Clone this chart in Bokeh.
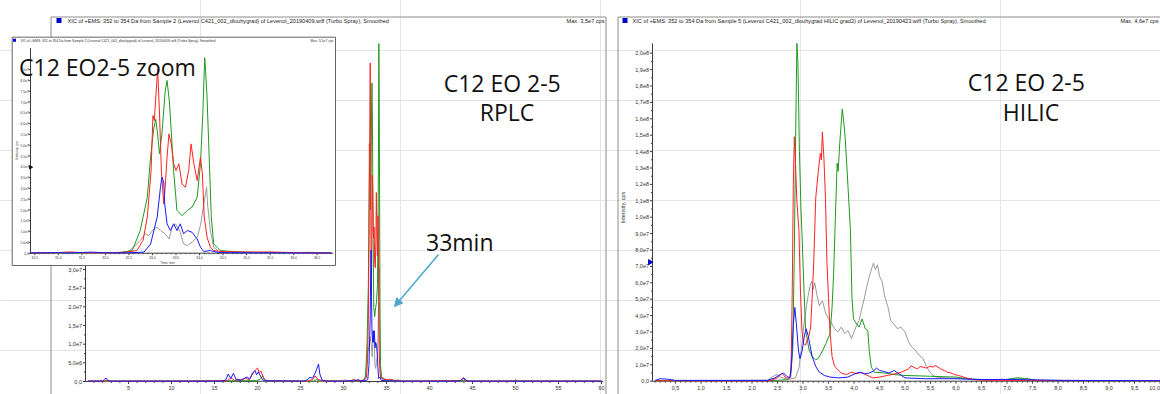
import math
from bokeh.plotting import figure
from bokeh.models import Range1d, Arrow, NormalHead
from bokeh.core.properties import value
from bokeh.embed import file_html
from bokeh.resources import INLINE

# ============================ data ============================
# RPLC XIC (m/z 352-354), Sample 2 -- time [min], intensity [1e6 cps]
rplc_gray = [(0.3,0.1),(9.0,0.1),(19.5,0.2),(20.5,0.1),(29.8,0.1),(30.2,0.4),(30.6,0.2),(31.5,0.1),(32.0,0.2),
             (32.46,0.5),(32.6,2.8),(32.74,5.9),(32.85,9.0),(32.92,8.2),(33.03,11.3),(33.1,12.0),(33.17,10.5),
             (33.27,9.0),(33.35,6.6),(33.42,12.0),(33.49,13.6),(33.59,9.7),(33.66,4.3),(33.74,3.5),(33.84,5.1),
             (33.95,7.4),(34.02,12.8),(34.09,22.8),(34.15,30.5),(34.17,22.8),(34.23,10.5),(34.3,2.8),(34.4,0.9),
             (34.8,0.3),(36.0,0.1),(36.8,0.1),(60.0,0.1)]
rplc_green = [(0.3,0.1),(12.0,0.1),(19.9,0.2),(20.3,0.6),(20.6,1.5),(20.8,0.4),(21.2,0.1),(26.5,0.1),(26.9,0.5),
              (27.2,0.2),(30.4,0.1),(31.5,0.2),(32.3,0.3),(32.57,1.2),(32.74,10.5),(32.89,25.9),(32.96,44.4),
              (32.99,50.6),(33.03,58.0),(33.07,62.0),(33.11,55.0),(33.15,46.0),(33.2,55.0),(33.27,75.0),
              (33.31,80.0),(33.36,70.0),(33.42,49.0),(33.45,38.0),(33.52,19.8),(33.63,17.4),(33.74,19.8),
              (33.84,21.3),(33.95,25.9),(34.02,41.4),(34.07,64.5),(34.11,90.5),(34.13,84.0),(34.16,72.0),
              (34.21,41.4),(34.25,16.7),(34.3,4.3),(34.44,1.2),(34.8,0.6),(35.3,0.4),(35.9,0.2),(36.3,0.4),
              (36.8,0.1),(40.0,0.1),(44.0,0.3),(44.3,0.1),(60.0,0.1)]
rplc_red = [(0.3,0.1),(2.2,0.1),(2.5,0.4),(2.8,0.1),(12.0,0.1),(16.5,0.2),(16.9,1.0),(17.3,0.3),(17.7,0.6),
            (18.2,0.4),(18.6,0.9),(19.0,0.5),(19.3,1.5),(19.6,2.6),(19.8,3.2),(20.0,3.6),(20.2,2.4),(20.4,2.8),
            (20.7,1.0),(21.0,0.2),(25.8,0.1),(26.4,0.5),(26.7,1.5),(27.0,0.6),(27.4,0.3),(28.0,0.1),(30.4,0.1),
            (30.9,0.2),(31.26,0.6),(31.5,0.2),(32.0,0.2),(32.4,0.4),(32.67,1.2),(32.8,6.0),(32.89,16.7),
            (32.97,38.0),(33.01,63.7),(33.04,61.4),(33.07,72.0),(33.11,85.3),(33.15,64.5),(33.19,38.0),
            (33.24,22.8),(33.27,30.5),(33.31,44.4),(33.35,55.2),(33.4,50.6),(33.45,41.4),(33.5,38.3),
            (33.56,41.4),(33.63,32.0),(33.7,30.5),(33.77,38.3),(33.82,50.6),(33.88,41.4),(33.95,33.6),
            (34.02,44.4),(34.06,36.7),(34.1,16.7),(34.16,7.4),(34.23,2.8),(34.3,1.2),(34.45,0.8),(34.8,0.6),
            (35.2,0.5),(35.5,0.6),(35.8,0.4),(36.2,0.2),(36.8,0.1),(38.0,0.1),(43.6,0.2),(43.9,1.0),(44.1,0.4),
            (44.4,0.1),(49.8,0.1),(50.0,0.5),(50.2,0.1),(60.0,0.1)]
rplc_blue = [(0.3,0.1),(2.0,0.1),(2.2,0.6),(2.4,0.9),(2.6,0.3),(2.9,0.1),(15.8,0.1),(16.3,0.4),(16.6,2.0),
             (16.9,0.8),(17.2,2.2),(17.5,0.6),(18.0,0.3),(18.4,0.8),(18.8,1.2),(19.1,0.6),(19.4,2.2),(19.7,2.9),
             (19.9,1.8),(20.1,2.6),(20.4,1.2),(20.7,0.2),(25.4,0.1),(25.8,0.5),(26.1,1.1),(26.4,0.9),(26.7,2.2),
             (26.9,3.4),(27.1,4.7),(27.25,2.0),(27.5,0.4),(28.0,0.1),(30.4,0.1),(31.0,0.3),(31.2,0.1),(31.7,0.5),
             (32.0,0.2),(32.5,0.2),(32.82,0.5),(32.96,4.3),(33.1,16.7),(33.17,30.5),(33.2,35.2),(33.24,32.9),
             (33.26,22.8),(33.31,13.6),(33.38,10.5),(33.45,13.6),(33.52,10.5),(33.59,13.6),(33.66,9.0),
             (33.74,10.5),(33.84,9.7),(33.95,6.6),(34.02,2.8),(34.09,0.8),(34.23,1.2),(34.4,0.3),(35.0,0.2),
             (36.5,0.1),(36.8,0.1),(43.5,0.1),(43.8,0.6),(44.0,1.0),(44.2,0.4),(44.5,0.1),(60.0,0.1)]

# HILIC XIC (m/z 352-354), Sample 5 -- time [min], intensity [1e7 cps]
hilic_gray = [(0.1,0.03),(2.3,0.05),(2.42,0.3),(2.49,0.4),(2.56,0.25),(2.7,0.1),(2.85,0.2),(2.92,0.8),(2.97,2.0),
              (3.02,3.5),(3.07,4.6),(3.1,5.2),(3.14,5.8),(3.17,6.1),(3.2,5.6),(3.23,6.0),(3.27,5.3),(3.32,4.6),
              (3.38,4.9),(3.45,4.1),(3.5,3.8),(3.55,3.6),(3.62,3.2),(3.68,3.0),(3.75,3.3),(3.82,2.9),(3.88,3.1),
              (3.95,2.6),(4.0,3.0),(4.05,3.4),(4.1,3.7),(4.15,4.4),(4.2,5.0),(4.26,5.9),(4.32,6.6),(4.38,7.2),
              (4.42,6.8),(4.46,7.1),(4.5,6.4),(4.55,6.1),(4.6,5.2),(4.66,4.6),(4.72,3.7),(4.78,3.5),(4.85,3.2),
              (4.92,3.3),(5.0,3.0),(5.07,2.4),(5.13,2.1),(5.2,1.9),(5.27,1.6),(5.35,1.4),(5.42,0.9),(5.5,0.5),
              (5.6,0.25),(5.8,0.2),(6.2,0.15),(6.6,0.1),(7.0,0.12),(7.2,0.2),(7.4,0.15),(7.6,0.05),(10.2,0.03)]
hilic_green = [(0.1,0.03),(2.5,0.05),(2.7,0.1),(2.76,0.3),(2.8,2.0),(2.83,8.0),(2.86,16.0),(2.88,20.6),(2.9,19.5),
               (2.93,14.0),(2.96,10.5),(2.98,9.0),(3.02,5.5),(3.05,3.2),(3.08,2.6),(3.12,1.9),(3.18,1.5),
               (3.25,1.3),(3.3,1.4),(3.39,1.9),(3.45,2.3),(3.53,2.9),(3.57,4.5),(3.6,6.5),(3.64,10.5),(3.67,13.3),
               (3.69,12.8),(3.72,14.5),(3.77,16.6),(3.8,15.8),(3.83,14.7),(3.88,12.0),(3.93,9.2),(3.96,5.1),
               (3.99,3.8),(4.05,3.5),(4.1,3.3),(4.16,3.8),(4.22,3.2),(4.27,3.1),(4.3,1.8),(4.34,0.86),(4.4,0.55),
               (4.6,0.5),(4.8,0.4),(5.0,0.35),(5.5,0.3),(6.0,0.25),(6.4,0.08),(7.0,0.1),(7.2,0.2),(7.4,0.15),
               (7.55,0.05),(10.2,0.03)]
hilic_red = [(0.1,0.03),(2.35,0.03),(2.5,0.2),(2.59,0.49),(2.65,0.25),(2.72,0.15),(2.75,0.25),(2.77,1.5),
             (2.79,5.7),(2.81,12.0),(2.83,14.9),(2.85,13.5),(2.88,11.0),(2.92,9.2),(2.95,5.5),(2.98,3.1),
             (3.01,2.3),(3.05,2.2),(3.08,2.5),(3.12,2.8),(3.15,3.3),(3.18,5.1),(3.21,7.2),(3.25,11.2),(3.3,12.8),
             (3.34,13.9),(3.36,13.5),(3.38,15.2),(3.41,13.6),(3.44,11.2),(3.47,7.2),(3.5,5.1),(3.53,3.0),
             (3.57,1.5),(3.62,0.9),(3.67,0.75),(3.75,0.5),(3.85,0.4),(3.95,0.55),(4.05,0.45),(4.15,0.55),
             (4.23,0.4),(4.3,0.3),(4.37,0.2),(4.5,0.25),(4.65,0.35),(4.8,0.45),(4.93,0.55),(5.0,0.65),(5.07,0.75),
             (5.12,0.95),(5.17,0.85),(5.24,0.75),(5.3,0.9),(5.35,0.86),(5.42,0.8),(5.49,0.92),(5.55,0.85),
             (5.59,0.96),(5.65,0.85),(5.7,0.75),(5.77,0.65),(5.83,0.55),(5.9,0.5),(5.97,0.4),(6.05,0.35),
             (6.11,0.29),(6.2,0.2),(6.32,0.1),(6.6,0.05),(10.2,0.03)]
hilic_blue = [(0.1,0.05),(0.2,0.15),(0.35,0.12),(0.5,0.05),(2.3,0.05),(2.45,0.2),(2.55,0.4),(2.62,0.5),(2.68,0.3),
              (2.74,0.2),(2.77,0.8),(2.81,3.4),(2.84,4.5),(2.87,3.5),(2.91,1.9),(2.94,1.37),(2.98,1.8),(3.03,2.8),
              (3.06,3.2),(3.1,2.8),(3.18,1.5),(3.25,0.9),(3.32,0.55),(3.42,0.35),(3.53,0.25),(3.7,0.2),(3.88,0.25),
              (3.98,0.4),(4.1,0.55),(4.2,0.45),(4.3,0.5),(4.37,0.6),(4.44,0.8),(4.5,0.65),(4.58,0.6),(4.68,0.5),
              (4.79,0.65),(4.88,0.45),(5.0,0.2),(5.4,0.15),(6.0,0.15),(6.5,0.1),(7.2,0.1),(8.1,0.05),(10.2,0.03)]

# threshold markers on the intensity axes
hilic_marker_level = 7.26   # 1e7 cps
zoom_marker_level = 39.8    # 1e6 cps

# axis ticks and labels
rplc_x_ticks = [5, 10, 15, 20, 25, 30, 35, 40, 45, 50, 55, 60]
rplc_x_labels = ["5", "10", "15", "20", "25", "30", "35", "40", "45", "50", "55", "60"]
rplc_y_ticks = [0, 5, 10, 15, 20, 25, 30]
rplc_y_labels = ["0,0", "5,0e6", "1,0e7", "1,5e7", "2,0e7", "2,5e7", "3,0e7"]
zoom_x_ticks = [30.5, 31.0, 31.5, 32.0, 32.5, 33.0, 33.5, 34.0, 34.5, 35.0, 35.5, 36.0, 36.5]
zoom_x_labels = ["30,5", "31,0", "31,5", "32,0", "32,5", "33,0", "33,5", "34,0", "34,5", "35,0", "35,5", "36,0", "36,5"]
zoom_y_ticks = [0, 5, 10, 15, 20, 25, 30, 35, 40, 45, 50, 55, 60, 65, 70, 75, 80, 85]
zoom_y_labels = ["0,0", "5,0e6", "1,0e7", "1,5e7", "2,0e7", "2,5e7", "3,0e7", "3,5e7", "4,0e7", "4,5e7",
                 "5,0e7", "5,5e7", "6,0e7", "6,5e7", "7,0e7", "7,5e7", "8,0e7", "8,5e7"]
hilic_x_ticks = [0.5, 1.0, 1.5, 2.0, 2.5, 3.0, 3.5, 4.0, 4.5, 5.0, 5.5, 6.0, 6.5, 7.0, 7.5, 8.0, 8.5, 9.0, 9.5, 10.0]
hilic_x_labels = ["0,5", "1,0", "1,5", "2,0", "2,5", "3,0", "3,5", "4,0", "4,5", "5,0", "5,5", "6,0", "6,5",
                  "7,0", "7,5", "8,0", "8,5", "9,0", "9,5", "10,0"]
hilic_y_ticks = list(range(0, 21))
hilic_y_labels = ["0,0", "1,0e7", "2,0e7", "3,0e7", "4,0e7", "5,0e7", "6,0e7", "7,0e7", "8,0e7", "9,0e7",
                  "1,0e8", "1,1e8", "1,2e8", "1,3e8", "1,4e8", "1,5e8", "1,6e8", "1,7e8", "1,8e8", "1,9e8", "2,0e8"]

hdr_left = "XIC of +EMS: 352 to 354 Da from Sample 2 (Levenol C421_002_dlouhygrad) of Levenol_20190409.wiff (Turbo Spray), Smoothed"
hdr_right = "XIC of +EMS: 352 to 354 Da from Sample 5 (Levenol C421_002_dlouhygrad HILIC grad2) of Levenol_20190423.wiff (Turbo Spray), Smoothed"

# ============================ style ============================
C_BLUE, C_RED, C_GREEN, C_GRAY = "#1a1aff", "#ff2222", "#1f9a1f", "#9a9a9a"
AX, TXT, FRAME, ARROW = "#3c3c3c", "#333333", "#8c8c8c", "#4aa8cc"
TF = "Liberation Sans"
BIG = "Open Sans"

W, H, OX, OY = 1160, 394, 0, 0
PX = (OX, OX + W)
PY = (OY + H, OY)

p = figure(width=W, height=H, x_range=Range1d(*PX), y_range=Range1d(*PY),
           x_axis_location=None, y_axis_location=None, toolbar_location=None,
           output_backend="svg", min_border=0, outline_line_color=None,
           background_fill_color="white", border_fill_color="white")


def sub(xs, xt, ys, yt):
    return p.subplot(x_source=Range1d(*xs), x_target=Range1d(*xt),
                     y_source=Range1d(*ys), y_target=Range1d(*yt))


def x_axis(xs, xt, y_px, span, majors, labels, minors, maj, mnr, lab_y, fs, last_right=False):
    s = sub(xs, xt, PY, PY)
    s.segment(x0=[span[0]], y0=[y_px], x1=[span[1]], y1=[y_px], line_color=AX, line_width=1)
    n = len(minors)
    s.segment(x0=minors, y0=[y_px] * n, x1=minors, y1=[y_px + mnr] * n, line_color=AX, line_width=1)
    m = len(majors)
    s.segment(x0=majors, y0=[y_px] * m, x1=majors, y1=[y_px + maj] * m, line_color=AX, line_width=1)
    k = m - 1 if last_right else m
    s.text(x=majors[:k], y=[lab_y] * k, text=labels[:k], text_align="center", text_baseline="middle",
           text_font=value(TF), text_font_size=fs, text_color=TXT)
    if last_right:
        p.text(x=[PX[1] - 0.5], y=[lab_y], text=[labels[-1]], text_align="right", text_baseline="middle",
               text_font=value(TF), text_font_size=fs, text_color=TXT)


def y_axis(ys, yt, x_px, span, majors, labels, minors, maj, mnr, lab_x, fs):
    s = sub(PX, PX, ys, yt)
    s.segment(x0=[x_px], y0=[span[0]], x1=[x_px], y1=[span[1]], line_color=AX, line_width=1)
    n = len(minors)
    if n:
        s.segment(x0=[x_px] * n, y0=minors, x1=[x_px - mnr] * n, y1=minors, line_color=AX, line_width=1)
    m = len(majors)
    s.segment(x0=[x_px] * m, y0=majors, x1=[x_px - maj] * m, y1=majors, line_color=AX, line_width=1)
    s.text(x=[lab_x] * m, y=majors, text=labels, text_align="right", text_baseline="middle",
           text_font=value(TF), text_font_size=fs, text_color=TXT)


def draw_traces(s, traces, lo=None, hi=None):
    for data, col in traces:
        pts = [(t, v) for t, v in data if (lo is None or lo <= t <= hi)]
        s.line(x=[a for a, b in pts], y=[b for a, b in pts], line_color=col, line_width=1)


# ---------------- panel frames & headers ----------------
p.segment(x0=[50.5, 50.5, 605.5, 617.5, 617.5], y0=[16.5, 16.5, 16.5, 16.5, 16.5],
          x1=[605.5, 50.5, 605.5, 1170.0, 617.5], y1=[16.5, 400.0, 400.0, 16.5, 400.0],
          line_color=FRAME, line_width=1)
p.quad(left=[56, 622], right=[61, 627], top=[17.5, 17.5], bottom=[22.5, 22.5],
       fill_color="#0000cc", line_color=None)
p.text(x=[67, 632], y=[20.5, 20.5], text=[hdr_left, hdr_right], text_align="left", text_baseline="middle",
       text_font=value(TF), text_font_size="5.6px", text_color="#222222")
p.text(x=[604], y=[20.5], text=["Max. 3,5e7 cps"], text_align="right", text_baseline="middle",
       text_font=value(TF), text_font_size="5.6px", text_color="#222222")
p.text(x=[1158], y=[20.5], text=["Max. 4,6e7 cps"], text_align="right", text_baseline="middle",
       text_font=value(TF), text_font_size="5.6px", text_color="#222222")

# ---------------- HILIC panel (right) ----------------
HX_S, HX_T = (0, 10), (649.5, 1159.5)
HY_S, HY_T = (0, 20), (380.7, 52.7)
hminor_x = [round(0.1 * i, 2) for i in range(1, 103) if i % 5]
x_axis(HX_S, HX_T, 380.7, (0.05, 10.3), hilic_x_ticks, hilic_x_labels, hminor_x, 2.5, 1.5, 387.3, "5.5px",
       last_right=True)
y_axis(HY_S, HY_T, 652.0, (0, 20.6), hilic_y_ticks, hilic_y_labels,
       [i + 0.5 for i in range(0, 20)], 2.5, 1.5, 648.5, "5.5px")
p.text(x=[622], y=[207], text=["Intensity, cps"], angle=math.pi / 2, text_align="center",
       text_baseline="middle", text_font=value(TF), text_font_size="5.5px", text_color=TXT)
hi = sub(HX_S, HX_T, HY_S, HY_T)
draw_traces(hi, [(hilic_gray, C_GRAY), (hilic_green, C_GREEN), (hilic_red, C_RED), (hilic_blue, C_BLUE)])
hi.scatter(x=[0.0], y=[hilic_marker_level], marker="triangle", angle=-math.pi / 2, size=5,
           fill_color="#0000cc", line_color="#0000cc")

# ---------------- RPLC panel (left) ----------------
RX_S, RX_T = (0, 60), (85, 601)
RY_S, RY_T = (0, 30), (381, 269)
rminor_x = [i for i in range(1, 61) if i % 5]
x_axis(RX_S, RX_T, 381, (0, 60.2), rplc_x_ticks, rplc_x_labels, rminor_x, 2.5, 1.5, 387.5, "5.5px")
y_axis(RY_S, RY_T, 85, (0, 90), rplc_y_ticks, rplc_y_labels, [2.5, 7.5, 12.5, 17.5, 22.5, 27.5],
       2.5, 1.5, 81.5, "5.5px")
rp = sub(RX_S, RX_T, RY_S, RY_T)
draw_traces(rp, [(rplc_gray, C_GRAY), (rplc_green, C_GREEN), (rplc_red, C_RED), (rplc_blue, C_BLUE)])

# ---------------- zoom inset ----------------
p.quad(left=[11.7], right=[335.0], top=[36.7], bottom=[265.0], fill_color="white", line_color="#666666",
       line_width=1)
p.quad(left=[12.5], right=[15.5], top=[38.2], bottom=[41.2], fill_color="#0000cc", line_color=None)
p.text(x=[20], y=[40.0], text=[hdr_left], text_align="left", text_baseline="middle",
       text_font=value(TF), text_font_size="3.4px", text_color="#333333")
p.text(x=[333], y=[40.0], text=["Max. 3,5e7 cps"], text_align="right", text_baseline="middle",
       text_font=value(TF), text_font_size="3.4px", text_color="#333333")
ZX_S, ZX_T = (30.5, 36.5), (34.3, 316.7)
ZY_S, ZY_T = (0, 85), (252.7, 69.1)
zminor_x = [round(30.4 + 0.1 * i, 2) for i in range(0, 65) if i % 5 != 1]
x_axis(ZX_S, ZX_T, 252.7, (30.41, 36.84), zoom_x_ticks, zoom_x_labels, zminor_x, 2, 1, 257.3, "3.3px")
y_axis(ZY_S, ZY_T, 30.0, (0, 95), zoom_y_ticks, zoom_y_labels, [], 2, 1, 28.3, "3.3px")
p.text(x=[167], y=[262.3], text=["Time, min"], text_align="center", text_baseline="middle",
       text_font=value(TF), text_font_size="3.3px", text_color=TXT)
p.text(x=[16.3], y=[150], text=["Intensity, cps"], angle=math.pi / 2, text_align="center",
       text_baseline="middle", text_font=value(TF), text_font_size="3.3px", text_color=TXT)
zm = sub(ZX_S, ZX_T, ZY_S, ZY_T)
draw_traces(zm, [(rplc_gray, C_GRAY), (rplc_green, C_GREEN), (rplc_red, C_RED), (rplc_blue, C_BLUE)],
            30.35, 36.9)
zm.scatter(x=[30.41], y=[zoom_marker_level], marker="triangle", angle=-math.pi / 2, size=3.5,
           fill_color="#111111", line_color="#111111")

# ---------------- big annotation texts ----------------
big = dict(text_font=value(BIG), text_font_size="23px", text_color="#111111", text_baseline="alphabetic")
p.text(x=[18.5], y=[66.0], text=["C12 EO2-5 zoom"], text_align="left", **big)
p.text(x=[501.7, 506.5], y=[82.7, 111.7], text=["C12 EO 2-5", "RPLC"], text_align="center", **big)
p.text(x=[425.5], y=[241.7], text=["33min"], text_align="left", **big)
p.text(x=[1025.8, 1030.5], y=[81.7, 111.7], text=["C12 EO 2-5", "HILIC"], text_align="center", **big)

p.add_layout(Arrow(end=NormalHead(size=8, fill_color=ARROW, line_color=ARROW, line_width=1),
                   x_start=438, y_start=254, x_end=394, y_end=306,
                   line_color=ARROW, line_width=1.5))

open("out.html", "w").write(file_html(p, INLINE))
